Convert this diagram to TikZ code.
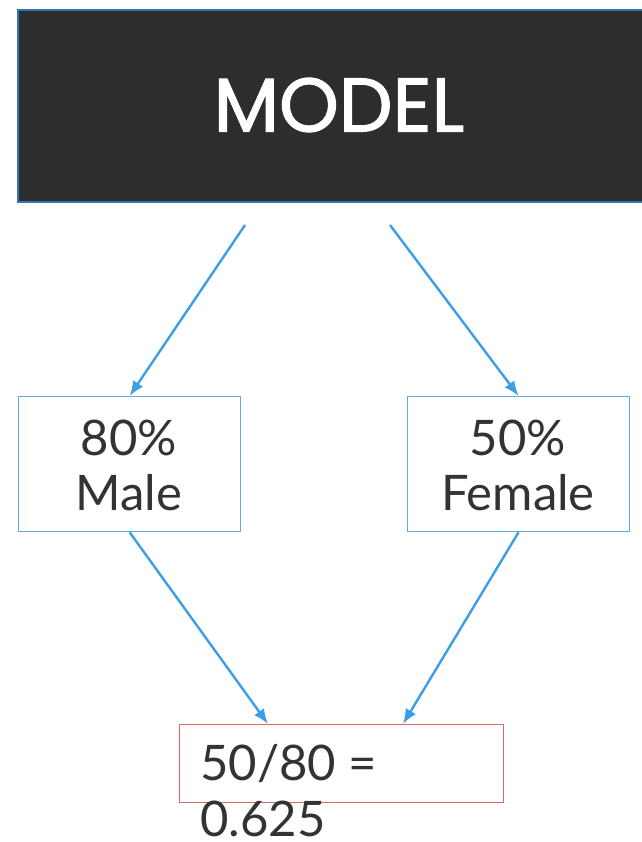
\documentclass[tikz,border=0pt]{standalone}
\usepackage{fontspec}
\setmainfont{Lato}
\newfontfamily\headfont{Poppins}[FakeBold=1.6]
\usetikzlibrary{arrows.meta,calc}
\definecolor{headfill}{HTML}{2D2D2D}
\definecolor{headedge}{HTML}{2E75B6}
\definecolor{flowblue}{HTML}{3C9EE7}
\definecolor{boxedge}{HTML}{5AACE8}
\definecolor{resultedge}{HTML}{E06666}
\definecolor{ink}{HTML}{333333}
\tikzset{
  headbox/.style={draw=headedge, fill=headfill, line width=2pt, inner sep=0pt, anchor=north west},
  catbox/.style={draw=boxedge, line width=1.2pt, inner sep=0pt, minimum width=222pt, minimum height=135pt, anchor=north west},
  resbox/.style={draw=resultedge, line width=1.2pt, inner sep=0pt, minimum width=324pt, minimum height=78pt, anchor=north west},
  label/.style={text=ink, font=\fontsize{49}{55}\selectfont, align=center, inner sep=0pt},
  flow/.style={draw=flowblue, line width=2.4pt, -{Latex[length=15pt,width=12pt]}}
}
\begin{document}
\begin{tikzpicture}[x=1pt,y=-1pt]
\useasboundingbox (0,0) rectangle (641,842);
% top block
\node[headbox, minimum width=640pt, minimum height=192pt] (model) at (17,9) {};
\node[text=white, inner sep=0pt, font=\headfont\fontsize{76}{80}\selectfont] (modeltext) at (339,105) {MODEL};
% category boxes (base anchor sits on the last line)
\node[catbox] (male) at (18,396) {};
\node[label, anchor=base] (maletext) at (129,510) {80\%\\Male};
\node[catbox] (female) at (407,396) {};
\node[label, anchor=base] (femaletext) at (518,510) {50\%\\Female};
% result box, text runs past its lower edge
\node[resbox] (result) at (179,724) {};
\node[label, align=left, anchor=base west, font=\fontsize{49}{56}\selectfont] (resulttext) at (200,836) {50/80 =\\0.625};
% connectors
\coordinate (outL) at (245,225);
\coordinate (outR) at (390,225);
\coordinate (inL) at ($(result.north west)+(89,0)$);
\coordinate (inR) at ($(result.north west)+(224,0)$);
\draw[flow] (outL) -- (male.north);
\draw[flow] (outR) -- (female.north);
\draw[flow] (male.south) -- (inL);
\draw[flow] (female.south) -- (inR);
\end{tikzpicture}
\end{document}
